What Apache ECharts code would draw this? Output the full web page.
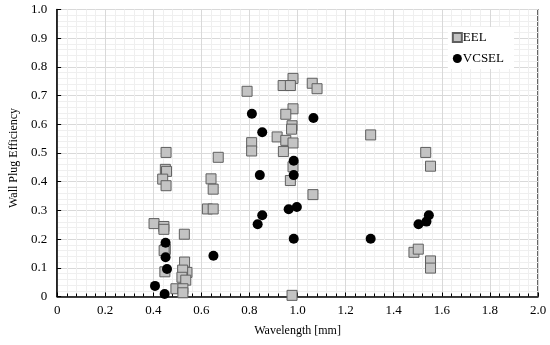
<!DOCTYPE html>
<html><head><meta charset="utf-8">
<script src="https://cdn.jsdelivr.net/npm/echarts@6/dist/echarts.min.js"></script>
<style>html,body{margin:0;padding:0;background:#fff}#c{width:550px;height:345px}</style>
</head><body><div id="c"></div>
<script>
var eelX = [0.981,0.940,0.970,1.061,1.081,0.790,0.981,0.951,0.977,0.975,0.915,0.951,0.981,0.809,0.809,0.941,0.670,0.981,0.970,0.640,0.649,1.064,0.625,0.649,0.529,0.977,
  0.403,0.444,0.444,0.450,0.445,0.448,0.530,0.540,0.522,0.519,0.535,0.494,0.523,0.523,
  0.453,0.450,0.455,0.439,0.453,1.304,1.533,1.553,1.484,1.502,1.553,1.553];
var eelY = [0.760,0.735,0.735,0.743,0.724,0.715,0.654,0.635,0.595,0.583,0.556,0.544,0.535,0.536,0.507,0.505,0.485,0.452,0.404,0.410,0.374,0.355,0.305,0.305,0.217,0.004,
  0.254,0.244,0.234,0.164,0.160,0.086,0.120,0.084,0.092,0.067,0.057,0.027,0.027,0.013,
  0.502,0.443,0.436,0.409,0.386,0.563,0.502,0.454,0.154,0.165,0.124,0.099];
var vcselX = [0.810,1.066,0.853,0.984,0.843,0.984,0.963,0.997,0.853,0.834,0.984,0.650,0.451,0.451,0.457,0.407,0.447,1.304,1.503,1.536,1.546];
var vcselY = [0.637,0.622,0.572,0.473,0.423,0.423,0.304,0.312,0.283,0.252,0.201,0.142,0.187,0.137,0.096,0.037,0.009,0.201,0.252,0.261,0.283];
var seriesNames = ['EEL','VCSEL'];
var xName = 'Wavelength [mm]';
var yName = 'Wall Plug Efficiency';

function pairs(xs, ys){ return xs.map(function(v,i){return [v, ys[i]];}); }
var font = 'Liberation Serif';
var chart = echarts.init(document.getElementById('c'), null, {renderer:'canvas'});
chart.setOption({
  animation:false,
  backgroundColor:'#fff',
  grid:{left:54,right:12,top:9.5,bottom:48.5,show:true,borderColor:'#000',borderWidth:1.2,backgroundColor:'transparent'},
  legend:{
    right:36, top:27, orient:'vertical', itemGap:8, itemWidth:9, itemHeight:9,
    backgroundColor:'#fff', padding:[4,10,4,4],
    textStyle:{fontFamily:font,fontSize:13,color:'#000',padding:[0,0,0,-4]},
    data:[{name:'EEL',icon:'rect'},{name:'VCSEL',icon:'circle'}]
  },
  xAxis:{
    type:'value',min:0,max:2,interval:0.2,
    name:xName,nameLocation:'middle',nameGap:28,
    nameTextStyle:{fontFamily:font,fontSize:12,color:'#000'},
    axisLine:{lineStyle:{color:'#000',width:1.5}},
    axisTick:{inside:true,length:4,lineStyle:{color:'#000'}},
    minorTick:{show:true,splitNumber:5,length:3,lineStyle:{color:'#000'}},
    axisLabel:{fontFamily:font,fontSize:13,color:'#000',margin:8,formatter:function(v){return v===0?'0':v.toFixed(1);}},
    splitLine:{show:true,lineStyle:{color:'#d9d9d9',width:1}},
    minorSplitLine:{show:true,lineStyle:{color:'#efefef',width:1}}
  },
  yAxis:{
    type:'value',min:0,max:1,interval:0.1,
    name:yName,nameLocation:'middle',nameGap:36,
    nameTextStyle:{fontFamily:font,fontSize:12,color:'#000',padding:[0,10,0,0]},
    axisLine:{show:true,lineStyle:{color:'#000',width:1.5}},
    axisTick:{show:true,inside:true,length:4,lineStyle:{color:'#000'}},
    minorTick:{show:false,splitNumber:5},
    axisLabel:{fontFamily:font,fontSize:13,color:'#000',margin:10,formatter:function(v){return v===0?'0':v.toFixed(1);}},
    splitLine:{show:true,lineStyle:{color:'#d9d9d9',width:1}},
    minorSplitLine:{show:true,lineStyle:{color:'#efefef',width:1}}
  },
  series:[
    {name:seriesNames[0],type:'scatter',symbol:'rect',symbolSize:10,
     itemStyle:{color:'#c3c3c3',borderColor:'#5f5f5f',borderWidth:1,opacity:1},
     data:pairs(eelX,eelY)},
    {name:seriesNames[1],type:'scatter',symbol:'circle',symbolSize:10,
     itemStyle:{color:'#000',opacity:1},
     data:pairs(vcselX,vcselY)}
  ]
});
</script></body></html>
